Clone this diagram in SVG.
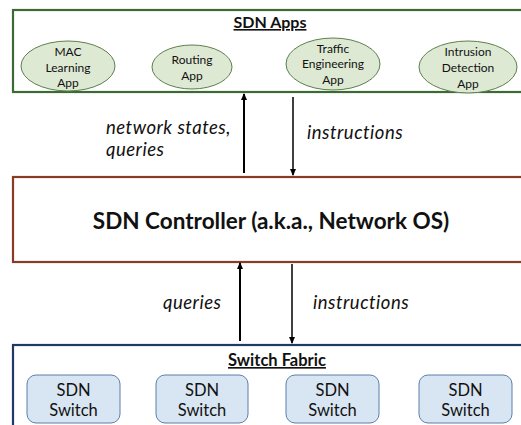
<svg xmlns="http://www.w3.org/2000/svg" width="521" height="425" viewBox="0 0 521 425">
<style>
.t{font-family:Lato,"Liberation Sans",sans-serif;fill:#111;text-anchor:middle}
.app{fill:#dde9d3;stroke:#5d7f4c;stroke-width:1}
.sw{fill:#d8e5f3;stroke:#5a7fa8;stroke-width:1}
.lbl{font-family:Lato,"Liberation Sans",sans-serif;font-style:italic;font-size:18.5px;letter-spacing:0.5px;fill:#111}
.ln{stroke:#000;fill:none}
</style>
<defs>
<marker id="ah" markerWidth="8" markerHeight="8" refX="6" refY="4" orient="auto" markerUnits="userSpaceOnUse">
<path d="M0,1 L7,4 L0,7 Z" fill="#000"/>
</marker>
</defs>
<rect width="521" height="425" fill="#fff"/>
<g id="apps">
<rect x="13" y="10" width="520" height="82" fill="#fff" stroke="#3b6b32" stroke-width="2.2"/>
<text class="t" x="270" y="28" font-size="16" font-weight="bold" text-decoration="underline">SDN Apps</text>
</g>
<g id="app-mac">
<ellipse class="app" cx="68" cy="66" rx="47" ry="25"/>
<text class="t" font-size="12"><tspan x="68" y="56">MAC</tspan><tspan x="68" y="72">Learning</tspan><tspan x="68" y="87">App</tspan></text>
</g>
<g id="app-routing">
<ellipse class="app" cx="192" cy="67" rx="40" ry="22"/>
<text class="t" font-size="12"><tspan x="192" y="64">Routing</tspan><tspan x="192" y="80">App</tspan></text>
</g>
<g id="app-te">
<ellipse class="app" cx="333" cy="64" rx="47" ry="26"/>
<text class="t" font-size="12"><tspan x="333" y="53">Traffic</tspan><tspan x="333" y="68">Engineering</tspan><tspan x="333" y="84">App</tspan></text>
</g>
<g id="app-ids">
<ellipse class="app" cx="468" cy="67" rx="49" ry="26"/>
<text class="t" font-size="12"><tspan x="468" y="56">Intrusion</tspan><tspan x="468" y="72">Detection</tspan><tspan x="468" y="88">App</tspan></text>
</g>
<g id="controller">
<rect x="13" y="177" width="520" height="85" fill="#fff" stroke="#8b3a24" stroke-width="2.2"/>
<text class="t" x="271" y="229" font-size="22.5" font-weight="bold">SDN Controller (a.k.a., Network OS)</text>
</g>
<g id="fabric">
<rect x="13" y="345" width="520" height="90" fill="#fff" stroke="#1f3864" stroke-width="2.2"/>
<text class="t" x="277" y="366" font-size="16.5" font-weight="bold" text-decoration="underline">Switch Fabric</text>
</g>
<g id="sw1">
<rect class="sw" x="27" y="375" width="93" height="48" rx="9"/>
<text class="t" font-size="16.5"><tspan x="73.5" y="396">SDN</tspan><tspan x="73.5" y="416">Switch</tspan></text>
</g>
<g id="sw2">
<rect class="sw" x="156" y="375" width="92" height="48" rx="9"/>
<text class="t" font-size="16.5"><tspan x="202" y="396">SDN</tspan><tspan x="202" y="416">Switch</tspan></text>
</g>
<g id="sw3">
<rect class="sw" x="286" y="375" width="93" height="48" rx="9"/>
<text class="t" font-size="16.5"><tspan x="332.5" y="396">SDN</tspan><tspan x="332.5" y="416">Switch</tspan></text>
</g>
<g id="sw4">
<rect class="sw" x="419" y="375" width="93" height="48" rx="9"/>
<text class="t" font-size="16.5"><tspan x="465.5" y="396">SDN</tspan><tspan x="465.5" y="416">Switch</tspan></text>
</g>
<g id="connectors">
<line class="ln" x1="244" y1="173" x2="244" y2="94" stroke-width="2" marker-end="url(#ah)"/>
<line class="ln" x1="293" y1="97" x2="293" y2="175" stroke-width="1.5" marker-end="url(#ah)"/>
<line class="ln" x1="240" y1="341" x2="240" y2="263" stroke-width="2" marker-end="url(#ah)"/>
<line class="ln" x1="292" y1="264" x2="292" y2="343" stroke-width="1.5" marker-end="url(#ah)"/>
<text class="lbl"><tspan x="106" y="134">network states,</tspan><tspan x="106" y="156">queries</tspan></text>
<text class="lbl" x="307" y="139">instructions</text>
<text class="lbl" x="163" y="309">queries</text>
<text class="lbl" x="313" y="309">instructions</text>
</g>
</svg>
